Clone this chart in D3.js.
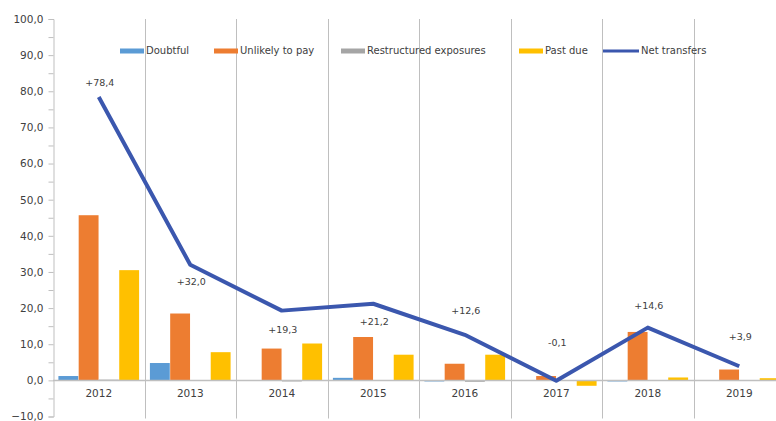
<!DOCTYPE html>
<html>
<head>
<meta charset="utf-8">
<script src="https://cdn.jsdelivr.net/npm/d3@7"></script>
<style>
  html, body { margin: 0; padding: 0; background: #fff; }
  svg { display: block; }
  text { font-family: "DejaVu Sans", sans-serif; fill: #404040; }
</style>
</head>
<body>
<svg id="chart" width="776" height="421"></svg>
<script>
// Yearly flows (billions), one array per series
const years = ["2012", "2013", "2014", "2015", "2016", "2017", "2018", "2019"];
const doubtful     = [1.2, 4.8, 0.1, 0.7, -0.3, 0.1, -0.3, 0.1];
const unlikely     = [45.7, 18.5, 8.8, 12.0, 4.6, 1.2, 13.4, 3.0];
const restructured = [0.2, 0.1, -0.3, 0.1, -0.4, 0.1, 0.0, 0.0];
const pastDue      = [30.5, 7.8, 10.2, 7.1, 7.1, -1.5, 0.8, 0.6];
const netTransfers = [78.4, 32.0, 19.3, 21.2, 12.6, -0.1, 14.6, 3.9];
const netLabels    = ["+78,4", "+32,0", "+19,3", "+21,2", "+12,6", "-0,1", "+14,6", "+3,9"];
const seriesNames  = ["Doubtful", "Unlikely to pay", "Restructured exposures", "Past due"];
const lineName     = "Net transfers";
const yTicks       = [-10, 0, 10, 20, 30, 40, 50, 60, 70, 80, 90, 100];

const barSeries = [doubtful, unlikely, restructured, pastDue];
const colors = ["#5B9BD5", "#ED7D31", "#A5A5A5", "#FFC000"];
const lineColor = "#3B57AE";

// vertical offsets of each net-transfer label from its point
const labelDy = [-14, 18, 20, 19, -23, -37, -21, -29];

const svg = d3.select("#chart");
const plotLeft = 53, plotRight = 785, plotTop = 19, plotBottom = 416.5;

const y = d3.scaleLinear().domain([-10, 100]).range([plotBottom, plotTop]);
const x = d3.scaleBand().domain(years).range([plotLeft, plotRight]).padding(0);
const bw = x.bandwidth();
const xs = d3.scaleBand().domain(d3.range(4)).range([5, bw - 5]).padding(0.02);

const fmt = d3.formatLocale({ decimal: ",", thousands: ".", grouping: [3], currency: ["", ""] }).format(".1f");

// category separators
svg.append("g").selectAll("line")
  .data(years.slice(1).concat(["end"]))
  .join("line")
  .attr("x1", (d, i) => Math.round(plotLeft + (i + 1) * bw) + 0.5)
  .attr("x2", (d, i) => Math.round(plotLeft + (i + 1) * bw) + 0.5)
  .attr("y1", plotTop).attr("y2", plotBottom + 2)
  .attr("stroke", "#BFBFBF").attr("stroke-width", 1);

// y axis with minor ticks every 5
const yAxis = d3.axisLeft(y)
  .tickValues(d3.range(-10, 101, 5))
  .tickSize(5)
  .tickFormat(d => yTicks.includes(d) ? fmt(d) : "");
const gy = svg.append("g").attr("transform", `translate(${plotLeft + 0.5},0)`).call(yAxis);
gy.select(".domain").attr("stroke", "#BFBFBF");
gy.selectAll(".tick line").attr("stroke", "#BFBFBF");
gy.selectAll(".tick text").attr("x", -10).style("font-size", "10.5px")
  .style("font-family", "DejaVu Sans, sans-serif").attr("fill", "#404040");

// bars
years.forEach((yr, i) => {
  const g = svg.append("g").attr("transform", `translate(${x(yr)},0)`);
  barSeries.forEach((s, k) => {
    const v = s[i];
    g.append("rect")
      .attr("x", xs(k))
      .attr("width", xs.bandwidth())
      .attr("y", y(Math.max(0, v)))
      .attr("height", Math.abs(y(v) - y(0)))
      .attr("fill", colors[k]);
  });
});

// zero line
svg.append("line")
  .attr("x1", plotLeft).attr("x2", plotRight)
  .attr("y1", Math.round(y(0)) + 0.5).attr("y2", Math.round(y(0)) + 0.5)
  .attr("stroke", "#BFBFBF").attr("stroke-width", 1.5);

// category labels
svg.append("g").selectAll("text")
  .data(years).join("text")
  .attr("x", d => x(d) + bw / 2)
  .attr("y", y(0) + 17)
  .attr("text-anchor", "middle")
  .style("font-size", "10.5px")
  .text(d => d);

// net transfers line
const line = d3.line()
  .x((d, i) => x(years[i]) + bw / 2)
  .y(d => y(d));
svg.append("path")
  .datum(netTransfers)
  .attr("d", line)
  .attr("fill", "none")
  .attr("stroke", lineColor)
  .attr("stroke-width", 4)
  .attr("stroke-linejoin", "round");

// net transfers labels
svg.append("g").selectAll("text")
  .data(netTransfers).join("text")
  .attr("x", (d, i) => x(years[i]) + bw / 2 + 1)
  .attr("y", (d, i) => y(d) + labelDy[i])
  .attr("text-anchor", "middle")
  .attr("dominant-baseline", "middle")
  .style("font-size", "9.5px")
  .text((d, i) => netLabels[i]);

// legend
const legendItems = [
  { name: seriesNames[0], color: colors[0], x: 120, w: 24, h: 5 },
  { name: seriesNames[1], color: colors[1], x: 214, w: 24, h: 5 },
  { name: seriesNames[2], color: colors[2], x: 341, w: 24, h: 5 },
  { name: seriesNames[3], color: colors[3], x: 519, w: 24, h: 5 },
  { name: lineName, color: lineColor, x: 603, w: 36, h: 3 }
];
const ly = 51;
const lg = svg.append("g");
legendItems.forEach(it => {
  lg.append("rect")
    .attr("x", it.x).attr("y", ly - it.h / 2)
    .attr("width", it.w).attr("height", it.h)
    .attr("fill", it.color);
  lg.append("text")
    .attr("x", it.x + it.w + 2).attr("y", ly)
    .attr("dominant-baseline", "middle")
    .style("font-size", "10px")
    .text(it.name);
});
</script>
</body>
</html>
